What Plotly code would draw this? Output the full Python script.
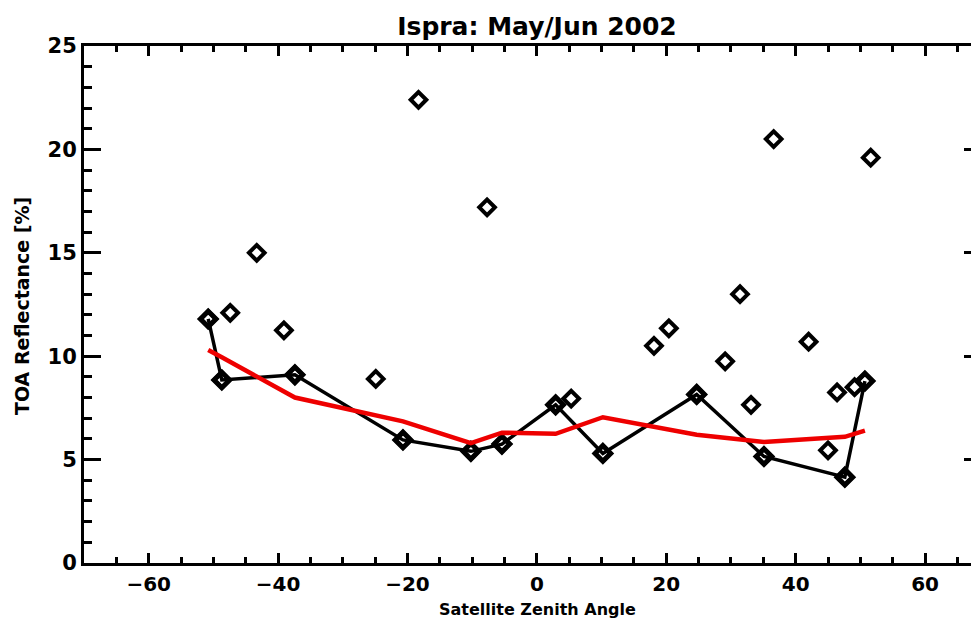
import plotly.graph_objects as go

# All observations (open diamonds)
all_x = [-50.8, -48.7, -47.4, -43.3, -39.1, -37.4, -24.9, -20.7, -18.3, -10.2, -7.7, -5.4,
         2.9, 5.3, 10.2, 18.1, 20.4, 24.7, 29.1, 31.4, 33.1, 35.1, 36.6, 42.0, 45.0, 46.4,
         47.6, 49.1, 50.7, 51.6]
all_y = [11.8, 8.85, 12.1, 15.0, 11.25, 9.1, 8.9, 5.95, 22.4, 5.4, 17.2, 5.75,
         7.65, 7.95, 5.3, 10.5, 11.35, 8.15, 9.75, 13.0, 7.65, 5.15, 20.5, 10.7, 5.45, 8.25,
         4.15, 8.5, 8.8, 19.6]

# Black line (selected points)
line_x = [-50.8, -48.7, -37.4, -20.7, -10.2, -5.4, 2.9, 10.2, 24.7, 35.1, 47.6, 50.7]
line_y = [11.8, 8.85, 9.1, 5.95, 5.4, 5.75, 7.65, 5.3, 8.15, 5.15, 4.15, 8.8]

# Red smoothed line
red_x = line_x
red_y = [10.3, 9.95, 8.0, 6.85, 5.8, 6.3, 6.25, 7.05, 6.2, 5.85, 6.1, 6.4]

x_ticks = [-60, -40, -20, 0, 20, 40, 60]
y_ticks = [0, 5, 10, 15, 20, 25]

FONT = "DejaVu Sans"

fig = go.Figure()
fig.add_trace(go.Scatter(x=all_x, y=all_y, mode="markers",
                         marker=dict(symbol="diamond-open", size=12, color="black",
                                     line=dict(width=4, color="black")),
                         showlegend=False))
fig.add_trace(go.Scatter(x=line_x, y=line_y, mode="lines+markers",
                         line=dict(color="black", width=3.5),
                         marker=dict(symbol="diamond-open", size=12, color="black",
                                     line=dict(width=5, color="black")),
                         showlegend=False))
fig.add_trace(go.Scatter(x=red_x, y=red_y, mode="lines", yaxis="y2",
                         line=dict(color="#ee0000", width=4.5),
                         showlegend=False))

# page body has an 8px margin on every side: figure sized to fit the 979x627 window
fig.update_layout(
    width=963, height=611,
    margin=dict(l=76, r=0, t=38, b=56),
    paper_bgcolor="white", plot_bgcolor="white",
    font=dict(family=FONT, color="black", size=20, weight="bold"),
    title=dict(text="Ispra: May/Jun 2002", x=529/963, xanchor="center",
               y=1 - 18/611, yanchor="middle", yref="container",
               font=dict(family=FONT, size=25, weight="bold", color="black")),
    xaxis=dict(range=[-70, 67.1], tickvals=x_ticks, showgrid=False, zeroline=False,
               showline=True, linewidth=3, linecolor="black", mirror="ticks",
               ticks="inside", ticklen=10, tickwidth=3, tickcolor="black",
               minor=dict(dtick=5, ticks="inside", ticklen=6, tickwidth=3, tickcolor="black", showgrid=False),
               ticklabelstandoff=1,
               tickfont=dict(family=FONT, size=20, weight="bold")),
    yaxis=dict(range=[0, 25], tickvals=y_ticks, showgrid=False, zeroline=False,
               showline=True, linewidth=3, linecolor="black",
               ticks="inside", ticklen=17, tickwidth=3, tickcolor="black",
               minor=dict(dtick=1, ticks="inside", ticklen=8, tickwidth=3, tickcolor="black", showgrid=False),
               ticklabelstandoff=0,
               tickfont=dict(family=FONT, size=21, weight="bold")),
    yaxis2=dict(range=[0, 25], tickvals=y_ticks, overlaying="y", side="right", anchor="x",
                showgrid=False, zeroline=False, showline=False, showticklabels=False,
                ticks="inside", ticklen=7, tickwidth=3, tickcolor="black"),
    annotations=[
        dict(text="Satellite Zenith Angle", xref="paper", yref="paper",
             x=(537 - 84) / (971 - 84), y=-46 / 517, xanchor="center", yanchor="middle",
             showarrow=False, font=dict(family=FONT, size=16, weight="bold")),
        dict(text="TOA Reflectance [%]", xref="paper", yref="paper",
             x=-(84 - 22) / (971 - 84), y=(563 - 306) / 517, xanchor="center", yanchor="middle",
             textangle=-90, showarrow=False, font=dict(family=FONT, size=19, weight="bold")),
    ],
)

fig.write_html("out.html")
